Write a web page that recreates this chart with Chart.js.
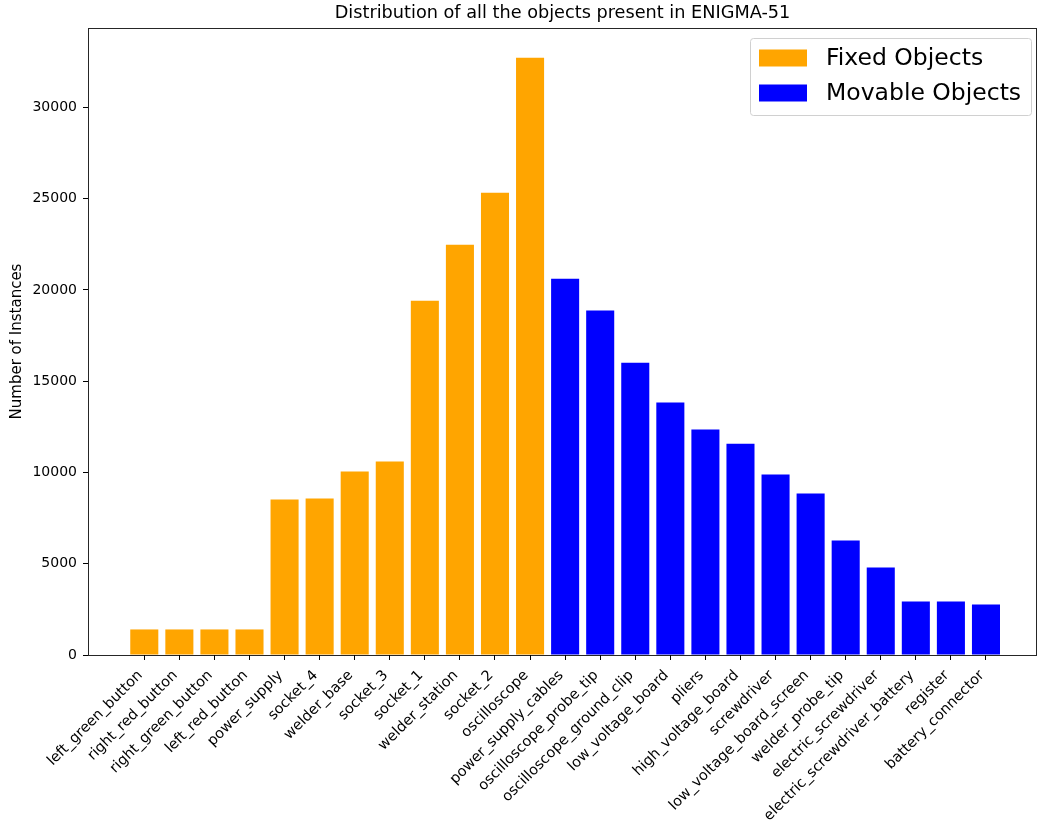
<!DOCTYPE html>
<html>
<head>
<meta charset="utf-8">
<title>ENIGMA-51 object distribution</title>
<script src="https://cdn.jsdelivr.net/npm/chart.js@4.4.1/dist/chart.umd.min.js"></script>
<style>
  html, body { margin: 0; padding: 0; background: #fff; }
  #wrap { width: 1039px; height: 822px; position: relative; }
</style>
</head>
<body>
<div id="wrap"><canvas id="chart"></canvas></div>
<script>
// Object classes and instance counts
const fixedLabels = [
  'left_green_button', 'right_red_button', 'right_green_button', 'left_red_button',
  'power_supply', 'socket_4', 'welder_base', 'socket_3', 'socket_1',
  'welder_station', 'socket_2', 'oscilloscope'
];
const fixedValues = [1400, 1400, 1400, 1400, 8520, 8570, 10050, 10600, 19410, 22480, 25330, 32720];

const movableLabels = [
  'power_supply_cables', 'oscilloscope_probe_tip', 'oscilloscope_ground_clip',
  'low_voltage_board', 'pliers', 'high_voltage_board', 'screwdriver',
  'low_voltage_board_screen', 'welder_probe_tip', 'electric_screwdriver',
  'electric_screwdriver_battery', 'register', 'battery_connector'
];
const movableValues = [20620, 18870, 16020, 13830, 12350, 11580, 9890, 8850, 6270, 4790, 2930, 2930, 2770];

const yTicks = [0, 5000, 10000, 15000, 20000, 25000, 30000];

const chartTitle = 'Distribution of all the objects present in ENIGMA-51';

const categories = fixedLabels.concat(movableLabels);
const n = categories.length;
const yMax = Math.max(...fixedValues, ...movableValues) * 1.05;

const FONT = "'DejaVu Sans', sans-serif";

// Title centred over the plot area, frame around the plot, in-plot legend box
const frameAndLegend = {
  id: 'frameAndLegend',
  afterDatasetsDraw(chart) {
    const { ctx, chartArea: a } = chart;
    ctx.save();

    ctx.fillStyle = '#000';
    ctx.font = "17.7px " + FONT;
    ctx.textAlign = 'center';
    ctx.textBaseline = 'middle';
    ctx.fillText(chartTitle, (a.left + a.right) / 2, a.top - 15);

    ctx.strokeStyle = 'rgba(0,0,0,0.85)';
    ctx.lineWidth = 1;
    ctx.strokeRect(Math.round(a.left) + 0.5, Math.round(a.top) + 0.5,
                   Math.round(a.right - a.left) - 1, Math.round(a.bottom - a.top));

    // legend
    const boxX = a.right - 287, boxY = a.top + 10, boxW = 281, boxH = 77;
    ctx.beginPath();
    ctx.roundRect(boxX + 0.5, boxY + 0.5, boxW, boxH, 3);
    ctx.fillStyle = 'rgba(255,255,255,0.8)';
    ctx.fill();
    ctx.strokeStyle = '#d0d0d0';
    ctx.stroke();

    ctx.font = "23.5px " + FONT;
    ctx.textBaseline = 'middle';
    ctx.textAlign = 'left';
    chart.data.datasets.forEach((ds, i) => {
      const cy = boxY + 20 + i * 35;
      ctx.fillStyle = ds.backgroundColor;
      ctx.fillRect(boxX + 9, cy - 8.5, 48, 17);
      ctx.fillStyle = '#000';
      ctx.fillText(ds.label, boxX + 76, cy + 1);
    });
    ctx.restore();
  }
};

new Chart(document.getElementById('chart'), {
  type: 'bar',
  data: {
    datasets: [
      {
        label: 'Fixed Objects',
        data: fixedValues.map((v, i) => ({ x: i, y: v })),
        backgroundColor: '#FFA500'
      },
      {
        label: 'Movable Objects',
        data: movableValues.map((v, i) => ({ x: fixedLabels.length + i, y: v })),
        backgroundColor: '#0000FF'
      }
    ]
  },
  options: {
    responsive: true,
    maintainAspectRatio: false,
    animation: false,
    layout: { padding: { left: 0, right: 2, top: 28, bottom: 0 } },
    datasets: {
      bar: { grouped: false, categoryPercentage: 1.0, barPercentage: 0.8, borderWidth: 0 }
    },
    plugins: {
      legend: { display: false },
      tooltip: { enabled: false },
      title: { display: false }
    },
    scales: {
      x: {
        type: 'linear',
        offset: false,
        min: -1.605,
        max: n - 1 + 1.455,
        afterFit(scale) { scale.height = 167; },
        afterBuildTicks(scale) { scale.ticks = categories.map((_, i) => ({ value: i })); },
        grid: { display: true, offset: false, drawOnChartArea: false, tickLength: 5, color: '#000', tickWidth: 1 },
        border: { display: false },
        ticks: {
          autoSkip: false,
          maxRotation: 45,
          minRotation: 45,
          padding: 7,
          labelOffset: -4,
          color: '#000',
          font: { family: FONT, size: 14.5 },
          callback: (v) => categories[v]
        }
      },
      y: {
        min: 0,
        max: yMax,
        afterFit(scale) { scale.width = 88; },
        afterBuildTicks(scale) { scale.ticks = yTicks.map(v => ({ value: v })); },
        grid: { display: true, drawOnChartArea: false, tickLength: 5, color: '#000', tickWidth: 1 },
        border: { display: false },
        ticks: {
          padding: 6,
          color: '#000',
          font: { family: FONT, size: 14 },
          callback: (v) => String(v)
        },
        title: {
          display: true,
          text: 'Number of Instances',
          color: '#000',
          font: { family: FONT, size: 15 },
          padding: { top: 8, bottom: 0 }
        }
      }
    }
  },
  plugins: [frameAndLegend]
});
</script>
</body>
</html>
